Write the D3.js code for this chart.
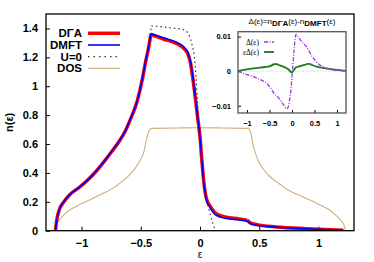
<!DOCTYPE html>
<html>
<head>
<meta charset="utf-8">
<script src="https://cdn.jsdelivr.net/npm/d3@7"></script>
<style>
  body { margin: 0; background: #fff; }
  svg { display: block; font-family: "Liberation Sans", Arial, sans-serif; }
</style>
</head>
<body>
<svg id="chart" width="374" height="262"></svg>
<script>
// main panel: n(eps) for DGA, DMFT, U=0 and the DOS
const epsMain = [-1.22, -1.21, -1.19, -1.15, -1.10, -1.02, -0.95, -0.88, -0.80, -0.74, -0.68, -0.63, -0.59, -0.53, -0.49, -0.46, -0.43, -0.415,
  -0.31, -0.20, -0.14, -0.10, -0.08, -0.06, -0.04, -0.02, 0, 0.015, 0.035, 0.055, 0.085, 0.14, 0.22, 0.33, 0.40, 0.42, 0.48, 0.65, 0.90, 1.21];
const dmft = [0, 0.07, 0.14, 0.20, 0.25, 0.30, 0.35, 0.41, 0.49, 0.555, 0.625, 0.695, 0.77, 0.90, 1.04, 1.17, 1.29, 1.365,
  1.335, 1.305, 1.275, 1.23, 1.17, 1.06, 0.93, 0.79, 0.65, 0.49, 0.31, 0.21, 0.16, 0.105, 0.085, 0.075, 0.066, 0.052, 0.038, 0.024, 0.013, 0.003];
const dga = [0, 0.07, 0.14, 0.199, 0.249, 0.299, 0.349, 0.408, 0.488, 0.553, 0.621, 0.69, 0.766, 0.896, 1.035, 1.165, 1.284, 1.359,
  1.327, 1.296, 1.264, 1.219, 1.16, 1.052, 0.923, 0.785, 0.65, 0.495, 0.318, 0.22, 0.171, 0.115, 0.094, 0.082, 0.072, 0.057, 0.042, 0.026, 0.014, 0.003];
const kinksMain = [-0.415, 0.40];

const epsU0 = [-1.22, -1.21, -1.19, -1.15, -1.10, -1.02, -0.95, -0.88, -0.80, -0.74, -0.68, -0.63, -0.59, -0.53, -0.49, -0.46, -0.43, -0.41,
  -0.31, -0.20, -0.14, -0.10, -0.07, -0.042, -0.025, -0.01, 0, 0.014, 0.035, 0.056, 0.08, 0.10, 0.13];
const u0 = [0, 0.07, 0.14, 0.20, 0.25, 0.30, 0.35, 0.41, 0.49, 0.555, 0.625, 0.695, 0.77, 0.90, 1.04, 1.17, 1.31, 1.418,
  1.41, 1.40, 1.392, 1.365, 1.296, 1.158, 0.95, 0.72, 0.57, 0.47, 0.32, 0.212, 0.13, 0.074, 0];
const kinksU0 = [-0.41];

const epsDos = [-1.23, -1.215, -1.187, -1.15, -1.10, -1.02, -0.934, -0.84, -0.737, -0.66, -0.597, -0.55, -0.512, -0.47, -0.447, -0.43, -0.414,
  -0.2, 0, 0.2, 0.414, 0.43, 0.447, 0.47, 0.512, 0.55, 0.597, 0.66, 0.737, 0.84, 0.934, 1.02, 1.10, 1.15, 1.187, 1.215, 1.23];
const dos = [0, 0.04, 0.074, 0.11, 0.143, 0.18, 0.212, 0.25, 0.293, 0.34, 0.385, 0.43, 0.477, 0.558, 0.65, 0.69, 0.708,
  0.711, 0.713, 0.711, 0.708, 0.675, 0.6, 0.53, 0.455, 0.41, 0.37, 0.33, 0.285, 0.245, 0.21, 0.175, 0.14, 0.105, 0.074, 0.04, 0];
const kinksDos = [-0.414, 0.414];

// inset: Delta(eps) and eps*Delta(eps)
const epsDelta = [-1.2, -1.0, -0.87, -0.75, -0.62, -0.53, -0.47, -0.40, -0.32, -0.26, -0.21, -0.16, -0.13, -0.10, -0.08, -0.05, -0.02, 0,
  0.02, 0.05, 0.07, 0.09, 0.12, 0.16, 0.22, 0.31, 0.37, 0.42, 0.48, 0.53, 0.62, 0.76, 0.90, 1.05, 1.2];
const delta = [0, -0.001, -0.0015, -0.0022, -0.003, -0.004, -0.005, -0.0064, -0.0074, -0.0084, -0.0093, -0.0102, -0.0108, -0.0108, -0.0102, -0.008, -0.005, -0.0015,
  0.002, 0.0067, 0.0095, 0.0106, 0.0103, 0.0095, 0.0085, 0.0072, 0.006, 0.0048, 0.0037, 0.0028, 0.0018, 0.0009, 0.0004, 0.0002, 0];
const epsEps = [-1.2, -1.0, -0.8, -0.6, -0.5, -0.43, -0.39, -0.34, -0.28, -0.2, -0.13, -0.07, -0.02, 0, 0.03, 0.09, 0.16, 0.24, 0.3, 0.35, 0.39,
  0.46, 0.55, 0.65, 0.76, 0.9, 1.05, 1.2];
const epsDeltaVals = [0.0001, 0.0005, 0.0009, 0.0012, 0.0014, 0.0018, 0.0021, 0.002, 0.0017, 0.0013, 0.0009, 0.0004, -0.0003, -0.0004, 0.0001, 0.0011,
  0.0014, 0.0017, 0.0019, 0.0021, 0.0021, 0.0017, 0.0013, 0.001, 0.0008, 0.0005, 0.0003, 0.0001];
const kinksEpsDelta = [-0.39, 0, 0.39];

const xTicks = [-1, -0.5, 0, 0.5, 1];
const yTicks = [0, 0.2, 0.4, 0.6, 0.8, 1, 1.2, 1.4];
const insetYTicks = [-0.01, 0, 0.01];

const svg = d3.select("#chart");
const zip = (xs, ys) => xs.map((x, i) => [x, ys[i]]);

// split a series at its kinks so the smooth curve keeps sharp corners there
function pieces(xs, ys, kinks) {
  const out = [[]];
  xs.forEach((x, i) => {
    out[out.length - 1].push([x, ys[i]]);
    if (kinks.includes(x) && i > 0 && i < xs.length - 1) out.push([[x, ys[i]]]);
  });
  return out;
}

// ---- main plot ----
const m = { left: 46, right: 354, top: 14, bottom: 230.7 };
const x = d3.scaleLinear().domain([-1.3, 1.3]).range([m.left, m.right]);
const y = d3.scaleLinear().domain([0, 1.5]).range([m.bottom, m.top]);

const xAxis = svg.append("g").attr("transform", `translate(0,${m.bottom})`)
  .call(d3.axisBottom(x).tickValues(xTicks).tickSizeInner(-4).tickSizeOuter(0).tickPadding(9).tickFormat(d3.format("")));
const yAxis = svg.append("g").attr("transform", `translate(${m.left},0)`)
  .call(d3.axisLeft(y).tickValues(yTicks).tickSizeInner(-4).tickSizeOuter(0).tickPadding(8).tickFormat(d3.format("")));
[xAxis, yAxis].forEach(a => {
  a.select(".domain").remove();
  a.selectAll("text").attr("font-size", 11).attr("font-weight", "bold").attr("fill", "#000")
    .attr("font-family", "Liberation Sans, Arial, sans-serif");
  a.selectAll("line").attr("stroke", "#000");
});

svg.append("clipPath").attr("id", "mainclip").append("rect")
  .attr("x", m.left).attr("y", m.top).attr("width", m.right - m.left).attr("height", m.bottom - m.top);

const line = d3.line().x(d => x(d[0])).y(d => y(d[1])).curve(d3.curveMonotoneX);
const plot = svg.append("g").attr("clip-path", "url(#mainclip)");

function draw(g, lineGen, segs, color, width, dash) {
  g.append("path").attr("d", segs.map(s => lineGen(s)).join(""))
    .attr("fill", "none").attr("stroke", color).attr("stroke-width", width)
    .attr("stroke-dasharray", dash).attr("stroke-linejoin", "round");
}

draw(plot, line, pieces(epsDos, dos, kinksDos), "#cfae78", 1.1, null);
draw(plot, line, pieces(epsU0, u0, kinksU0), "#333", 1.2, "1.5,3");
draw(plot, line, pieces(epsMain, dga, kinksMain), "#ff0000", 3.5, null);
draw(plot, line, pieces(epsMain, dmft, kinksMain), "#0000ff", 1.6, null);

svg.append("rect").attr("x", m.left).attr("y", m.top).attr("width", m.right - m.left).attr("height", m.bottom - m.top)
  .attr("fill", "none").attr("stroke", "#000").attr("stroke-width", 1.3);

svg.append("text").attr("x", (m.left + m.right) / 2).attr("y", 258).attr("text-anchor", "middle")
  .attr("font-size", 10).text("ε");
svg.append("text").attr("transform", `translate(13,${(m.top + m.bottom) / 2}) rotate(-90)`)
  .attr("text-anchor", "middle").attr("font-size", 11).attr("font-weight", "bold").text("n(ε)");

// legend
const legend = [
  { label: "DΓA", color: "#ff0000", width: 3.5, dash: null },
  { label: "DMFT", color: "#0000ff", width: 1.6, dash: null },
  { label: "U=0", color: "#333", width: 1.2, dash: "1.5,4" },
  { label: "DOS", color: "#cfae78", width: 1.1, dash: null }
];
const legendY = [33.3, 45, 56.7, 68.3];
legend.forEach((l, i) => {
  svg.append("text").attr("x", 82).attr("y", legendY[i] + 4).attr("text-anchor", "end")
    .attr("font-size", 11.5).attr("font-weight", "bold").text(l.label);
  svg.append("line").attr("x1", 88).attr("x2", 120).attr("y1", legendY[i]).attr("y2", legendY[i])
    .attr("stroke", l.color).attr("stroke-width", l.width).attr("stroke-dasharray", l.dash);
});

// ---- inset ----
const n = { left: 238, right: 346, top: 31.7, bottom: 113 };
const xi = d3.scaleLinear().domain([-1.2, 1.2]).range([n.left, n.right]);
const yi = d3.scaleLinear().domain([-0.0121, 0.0114]).range([n.bottom, n.top]);

svg.append("rect").attr("x", n.left).attr("y", n.top).attr("width", n.right - n.left).attr("height", n.bottom - n.top)
  .attr("fill", "#fff");

const xiAxis = svg.append("g").attr("transform", `translate(0,${n.bottom})`)
  .call(d3.axisBottom(xi).tickValues(xTicks).tickSizeInner(-3).tickSizeOuter(0).tickPadding(8).tickFormat(d3.format("")));
const yiAxis = svg.append("g").attr("transform", `translate(${n.left},0)`)
  .call(d3.axisLeft(yi).tickValues(insetYTicks).tickSizeInner(-3).tickSizeOuter(0).tickPadding(7).tickFormat(d3.format("")));
[xiAxis, yiAxis].forEach(a => {
  a.select(".domain").remove();
  a.selectAll("text").attr("font-size", 7.5).attr("font-weight", "bold").attr("fill", "#000")
    .attr("font-family", "Liberation Sans, Arial, sans-serif");
  a.selectAll("line").attr("stroke", "#000");
});

svg.append("line").attr("x1", n.left).attr("x2", n.right).attr("y1", yi(0)).attr("y2", yi(0))
  .attr("stroke", "#bbb").attr("stroke-width", 0.8).attr("stroke-dasharray", "1,1.5");

const linei = d3.line().x(d => xi(d[0])).y(d => yi(d[1])).curve(d3.curveMonotoneX);
draw(svg, linei, pieces(epsEps, epsDeltaVals, kinksEpsDelta), "#1f7a1f", 1.8, null);
draw(svg, linei, [zip(epsDelta, delta)], "#a033e0", 1.3, "4,1.5,1,1.5");

svg.append("rect").attr("x", n.left).attr("y", n.top).attr("width", n.right - n.left).attr("height", n.bottom - n.top)
  .attr("fill", "none").attr("stroke", "#555").attr("stroke-width", 1.3);

// inset legend
const insetLegend = [
  { label: "Δ(ε)", color: "#a033e0", width: 1.3, dash: "4,1.5,1,1.5", y: 42 },
  { label: "εΔ(ε)", color: "#1f7a1f", width: 1.8, dash: null, y: 52 }
];
insetLegend.forEach(l => {
  svg.append("text").attr("x", 259).attr("y", l.y + 2.5).attr("text-anchor", "end")
    .attr("font-size", 7.5).attr("font-family", "Liberation Serif, serif").text(l.label);
  svg.append("line").attr("x1", 264).attr("x2", 274).attr("y1", l.y).attr("y2", l.y)
    .attr("stroke", l.color).attr("stroke-width", l.width).attr("stroke-dasharray", l.dash);
});

// inset title
const title = svg.append("text").attr("x", 292).attr("y", 24).attr("text-anchor", "middle")
  .attr("font-size", 8).attr("font-family", "Liberation Sans, Arial, sans-serif");
title.append("tspan").text("Δ(ε)=n");
title.append("tspan").attr("dy", 2).attr("font-weight", "bold").text("DΓA");
title.append("tspan").attr("dy", -2).text("(ε)-n");
title.append("tspan").attr("dy", 2).attr("font-weight", "bold").text("DMFT");
title.append("tspan").attr("dy", -2).text("(ε)");
</script>
</body>
</html>
